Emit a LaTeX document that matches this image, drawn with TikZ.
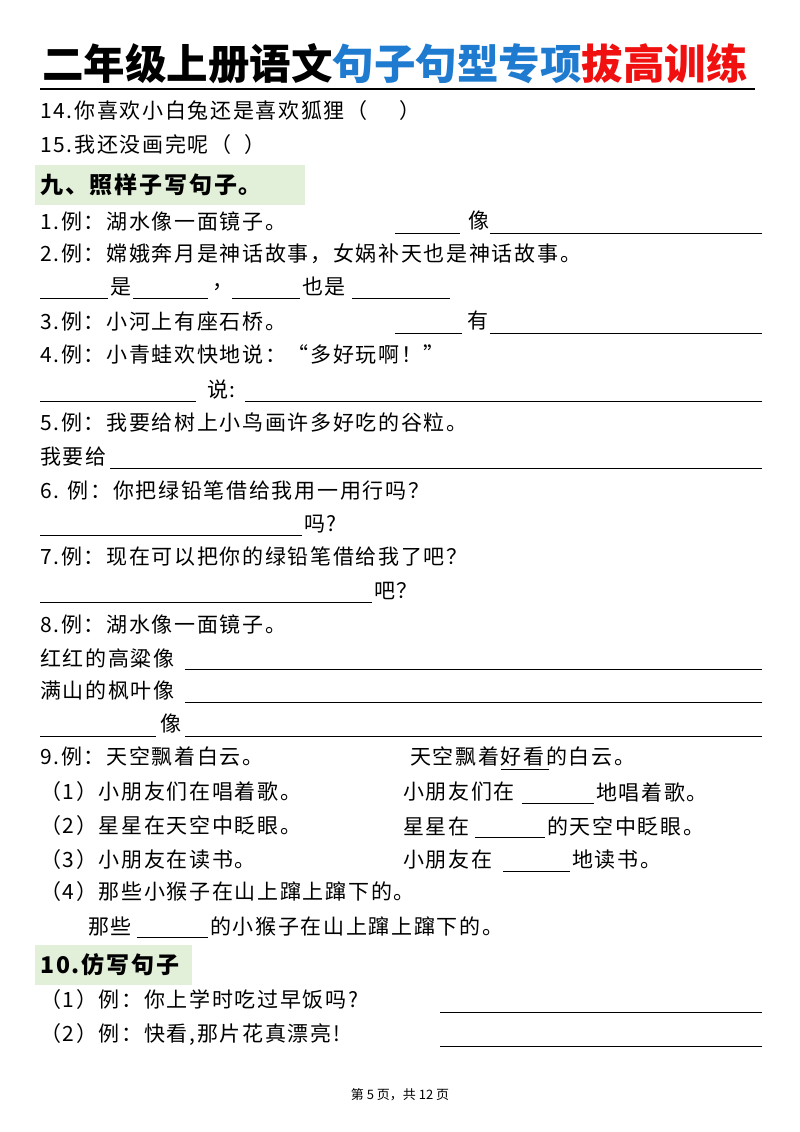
\documentclass[tikz,border=0pt]{standalone}
\usepackage{fontspec}
\setmainfont[LetterSpace=8]{Noto Sans CJK SC}
\newfontfamily\titlefont{Noto Sans CJK SC}
\newfontfamily\footfont{Noto Sans CJK SC}
\definecolor{hgreen}{HTML}{E2EFD9}
\definecolor{tblue}{HTML}{1F7BD0}
\definecolor{tred}{HTML}{F01010}
\begin{document}
\begin{tikzpicture}[x=1pt,y=-1pt,
  t/.style={anchor=west,inner sep=0pt,font=\fontsize{21}{24}\selectfont},
  h/.style={anchor=west,inner sep=0pt,font=\fontsize{23}{26}\selectfont\bfseries},
  bl/.style={line width=0.8pt}]
\useasboundingbox (0,0) rectangle (800,1132);
\fill[white] (0,0) rectangle (800,1132);
% title
\node[anchor=west,inner sep=0pt,font=\titlefont\fontsize{41.5}{45}\selectfont\bfseries] (title) at (42,64)
  {二年级上册语文\textcolor{tblue}{句子句型专项}\textcolor{tred}{拔高训练}};
\draw[line width=1.2pt] (40,89) -- (755,89);
\node[t] (l14) at (40,111) {14.你喜欢小白兔还是喜欢狐狸（\hspace{1.5em}）};
\node[t] (l15) at (40,145) {15.我还没画完呢（\hspace{0.6em}）};
\fill[hgreen] (35,165) rectangle (305,205);
\node[h] (s9) at (40,185) {九、照样子写句子。};
% 1
\node[t] (e1) at (40,221) {1.例：湖水像一面镜子。};
\draw[bl] (395,233) -- (460,233);
\node[t] (e1a) at (468,221) {像};
\draw[bl] (490,233) -- (762,233);
% 2
\node[t] (e2) at (40,254) {2.例：嫦娥奔月是神话故事，女娲补天也是神话故事。};
\draw[bl] (40,298) -- (108,298);
\node[t] (e2a) at (110,287) {是};
\draw[bl] (133,298) -- (208,298);
\node[t] (e2b) at (212,287) {，};
\draw[bl] (232,298) -- (300,298);
\node[t] (e2c) at (302,287) {也是};
\draw[bl] (352,298) -- (450,298);
% 3
\node[t] (e3) at (40,321) {3.例：小河上有座石桥。};
\draw[bl] (395,333) -- (462,333);
\node[t] (e3a) at (467,321) {有};
\draw[bl] (490,333) -- (762,333);
% 4
\node[t] (e4) at (40,354) {4.例：小青蛙欢快地说：“多好玩啊！”};
\draw[bl] (40,401) -- (196,401);
\node[t] (e4a) at (207,390) {说:};
\draw[bl] (245,401) -- (762,401);
% 5
\node[t] (e5) at (40,423) {5.例：我要给树上小鸟画许多好吃的谷粒。};
\node[t] (e5a) at (40,457) {我要给};
\draw[bl] (110,468) -- (762,468);
% 6
\node[t] (e6) at (40,491) {6. 例：你把绿铅笔借给我用一用行吗？};
\draw[bl] (40,535) -- (302,535);
\node[t] (e6a) at (304,524) {吗?};
% 7
\node[t] (e7) at (40,557) {7.例：现在可以把你的绿铅笔借给我了吧？};
\draw[bl] (40,602) -- (372,602);
\node[t] (e7a) at (374,591) {吧？};
% 8
\node[t] (e8) at (40,624) {8.例：湖水像一面镜子。};
\node[t] (e8a) at (40,658) {红红的高粱像};
\draw[bl] (185,669) -- (762,669);
\node[t] (e8b) at (40,691) {满山的枫叶像};
\draw[bl] (185,702) -- (762,702);
\draw[bl] (40,736) -- (156,736);
\node[t] (e8c) at (160,724) {像};
\draw[bl] (185,736) -- (762,736);
% 9
\node[t] (e9) at (40,757) {9.例：天空飘着白云。};
\node[t] (e9r) at (410,757) {天空飘着好看的白云。};
\draw[line width=0.6pt] (501,769) -- (549,769);
\node[t] (q1) at (40,792) {（1）小朋友们在唱着歌。};
\node[t] (q1r) at (403,792) {小朋友们在};
\draw[bl] (522,803) -- (594,803);
\node[t] (q1s) at (596,792) {地唱着歌。};
\node[t] (q2) at (40,826) {（2）星星在天空中眨眼。};
\node[t] (q2r) at (403,826) {星星在};
\draw[bl] (475,837) -- (545,837);
\node[t] (q2s) at (547,826) {的天空中眨眼。};
\node[t] (q3) at (40,860) {（3）小朋友在读书。};
\node[t] (q3r) at (403,860) {小朋友在};
\draw[bl] (503,871) -- (570,871);
\node[t] (q3s) at (572,860) {地读书。};
\node[t] (q4) at (40,892) {（4）那些小猴子在山上蹿上蹿下的。};
\node[t] (q4a) at (88,926) {那些};
\draw[bl] (137,937) -- (208,937);
\node[t] (q4b) at (210,926) {的小猴子在山上蹿上蹿下的。};
% 10
\fill[hgreen] (35,945) rectangle (192,985);
\node[h] (s10) at (40,965) {10.仿写句子};
\node[t] (r1) at (40,1000) {（1）例：你上学时吃过早饭吗?};
\draw[bl] (440,1012) -- (762,1012);
\node[t] (r2) at (40,1034) {（2）例：快看,那片花真漂亮!};
\draw[bl] (440,1046) -- (762,1046);
\node[anchor=center,inner sep=0pt,font=\footfont\fontsize{13}{15}\selectfont] (foot) at (400,1095) {第 5 页，共 12 页};
\end{tikzpicture}
\end{document}
